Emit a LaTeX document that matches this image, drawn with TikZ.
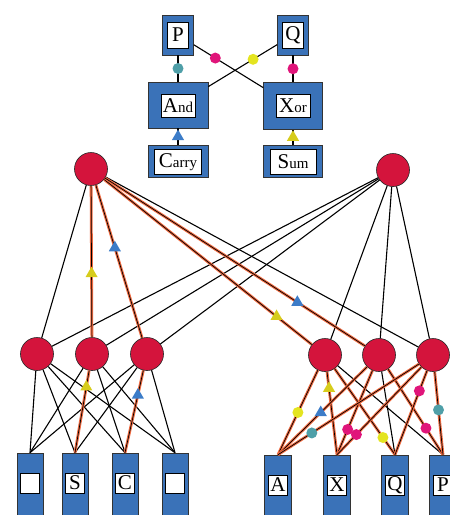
\documentclass[tikz,border=0pt]{standalone}
\usepackage{fontspec}
\setmainfont{Liberation Serif}
\usetikzlibrary{shapes.geometric}
\definecolor{boxblue}{HTML}{3A72B8}
\definecolor{unitred}{HTML}{D4143C}
\definecolor{hotred}{HTML}{F06A40}
\definecolor{dotteal}{HTML}{4F9FA8}
\definecolor{dotpink}{HTML}{E0157A}
\definecolor{dotyellow}{HTML}{E4E420}
\definecolor{triblue}{HTML}{3C7CC8}
\definecolor{triyellow}{HTML}{D6CC1C}
\newcommand{\bigsmall}[2]{{\fontsize{21}{22}\selectfont #1}{\fontsize{15}{16}\selectfont #2}}

\begin{document}
\begin{tikzpicture}[x=1pt,y=-1pt,
    frame/.style={rectangle,draw=black!80,fill=boxblue,line width=0.6pt,inner sep=0pt},
    pane/.style={rectangle,draw=black,fill=white,line width=0.5pt,inner sep=0pt,font=\fontsize{21}{22}\selectfont},
    unit/.style={circle,draw=black!85,fill=unitred,minimum size=33pt,inner sep=0pt,line width=0.6pt},
    wire/.style={draw=black,line width=1.1pt},
    hot/.style={draw=hotred,line width=2.8pt,postaction={draw=black,line width=0.7pt}},
    dotmark/.style={circle,inner sep=0pt,minimum size=11pt,fill=#1},
    trimark/.style={regular polygon,regular polygon sides=3,inner sep=0pt,minimum size=14pt,fill=#1}]
    \clip (0,0) rectangle (450,515);
    % half adder
    \node [frame, minimum width=31pt, minimum height=40pt] (P) at (178,35) {};
    \node [pane, minimum width=21pt, minimum height=26pt] (Pw) at (178,35) {P};
    \node [frame, minimum width=31pt, minimum height=40pt] (Q) at (293,35) {};
    \node [pane, minimum width=21pt, minimum height=26pt] (Qw) at (293,35) {Q};
    \node [frame, minimum width=60pt, minimum height=46pt] (and) at (178,105) {};
    \node [pane, minimum width=34pt, minimum height=23pt] (andw) at (178,106) {\bigsmall{A}{nd}};
    \node [frame, minimum width=59pt, minimum height=47pt] (xor) at (293,106) {};
    \node [pane, minimum width=34pt, minimum height=23pt] (xorw) at (293,106) {\bigsmall{X}{or}};
    \node [frame, minimum width=60pt, minimum height=32pt] (carry) at (178,161) {};
    \node [pane, minimum width=47pt, minimum height=25pt] (carryw) at (178,162) {\bigsmall{C}{arry}};
    \node [frame, minimum width=59pt, minimum height=32pt] (sum) at (293,161) {};
    \node [pane, minimum width=46pt, minimum height=25pt] (sumw) at (293,162) {\bigsmall{S}{um}};
    \draw [wire] (P) -- node [dotmark=dotteal] (m1) {} (and);
    \draw [wire] (P) -- node [dotmark=dotpink, pos=0.31] (m2) {} (xor);
    \draw [wire] (Q) -- node [dotmark=dotyellow, pos=0.35] (m3) {} (and);
    \draw [wire] (Q) -- node [dotmark=dotpink] (m4) {} (xor);
    \draw [wire] (carry) -- node [trimark=triblue] (m5) {} (and);
    \draw [wire] (sum) -- node [trimark=triyellow] (m6) {} (xor);
    % network units
    \node [unit] (g1) at (91,169) {};
    \node [unit] (g2) at (393,170) {};
    \node [unit] (h1) at (37,354) {};
    \node [unit] (h2) at (92,354) {};
    \node [unit] (h3) at (147,354) {};
    \node [unit] (h4) at (325,355) {};
    \node [unit] (h5) at (379,355) {};
    \node [unit] (h6) at (433,355) {};
    \node [frame, minimum width=26pt, minimum height=72pt] (o1) at (30,489) {};
    \node [pane, minimum width=19pt, minimum height=20pt] (w1) at (30,483) {};
    \node [frame, minimum width=26pt, minimum height=72pt] (o2) at (75,489) {};
    \node [pane, minimum width=19pt, minimum height=20pt] (w2) at (75,483) {S};
    \node [frame, minimum width=26pt, minimum height=72pt] (o3) at (125,489) {};
    \node [pane, minimum width=19pt, minimum height=20pt] (w3) at (125,483) {C};
    \node [frame, minimum width=26pt, minimum height=72pt] (o4) at (175,489) {};
    \node [pane, minimum width=19pt, minimum height=20pt] (w4) at (175,483) {};
    \node [frame, minimum width=27pt, minimum height=72pt] (o5) at (278,491) {};
    \node [pane, minimum width=19pt, minimum height=20pt] (w5) at (278,485) {A};
    \node [frame, minimum width=27pt, minimum height=72pt] (o6) at (337,491) {};
    \node [pane, minimum width=19pt, minimum height=20pt] (w6) at (337,485) {X};
    \node [frame, minimum width=27pt, minimum height=72pt] (o7) at (395,491) {};
    \node [pane, minimum width=19pt, minimum height=20pt] (w7) at (395,485) {Q};
    \node [frame, minimum width=27pt, minimum height=72pt] (o8) at (443,491) {};
    \node [pane, minimum width=19pt, minimum height=20pt] (w8) at (443,485) {P};
    % plain links
    \path [wire] (g1) edge (h1) edge (h6);
    \path [wire] (g2) edge (h1) edge (h2) edge (h3) edge (h4) edge (h5) edge (h6);
    \path [wire] (h1) edge (o1.north) edge (o2.north) edge (o3.north) edge (o4.north);
    \path [wire] (h2) edge (o1.north) edge (o3.north) edge (o4.north);
    \path [wire] (h3) edge (o1.north) edge (o2.north) edge (o4.north);
    \path [wire] (h4) edge (o8.north);
    \path [wire] (h5) edge (o7.north);
    % marked links
    \draw [hot] (g1) -- node [trimark=triyellow, pos=0.58] (t1) {} (h2);
    \draw [hot] (g1) -- node [trimark=triblue, pos=0.41] (t2) {} (h3);
    \draw [hot] (g1) -- node [trimark=triyellow, pos=0.83] (t3) {} (h4);
    \draw [hot] (g1) -- node [trimark=triblue, pos=0.74] (t4) {} (h5);
    \draw [hot] (h2) -- node [trimark=triyellow, pos=0.2] (t5) {} (o2.north);
    \draw [hot] (h3) -- node [trimark=triblue, pos=0.3] (t6) {} (o3.north);
    \draw [hot] (h4) -- node [dotmark=dotyellow, pos=0.5] (d1) {} (o5.north);
    \draw [hot] (h4) -- node [trimark=triyellow, pos=0.2] (t7) {} (o6.north);
    \draw [hot] (h4) -- node [dotmark=dotyellow, pos=0.8] (d2) {} (o7.north);
    \draw [hot] (h5) -- node [trimark=triblue, pos=0.52] (t8) {} (o5.north);
    \draw [hot] (h5) -- node [dotmark=dotpink, pos=0.7] (d3) {} (o6.north);
    \draw [hot] (h5) -- node [dotmark=dotpink, pos=0.69] (d4) {} (o8.north);
    \draw [hot] (h6) -- node [dotmark=dotteal, pos=0.76] (d5) {} (o5.north);
    \draw [hot] (h6) -- node [dotmark=dotpink, pos=0.77] (d6) {} (o6.north);
    \draw [hot] (h6) -- node [dotmark=dotpink, pos=0.24] (d7) {} (o7.north);
    \draw [hot] (h6) -- node [dotmark=dotteal, pos=0.46] (d8) {} (o8.north);
\end{tikzpicture}
\end{document}
